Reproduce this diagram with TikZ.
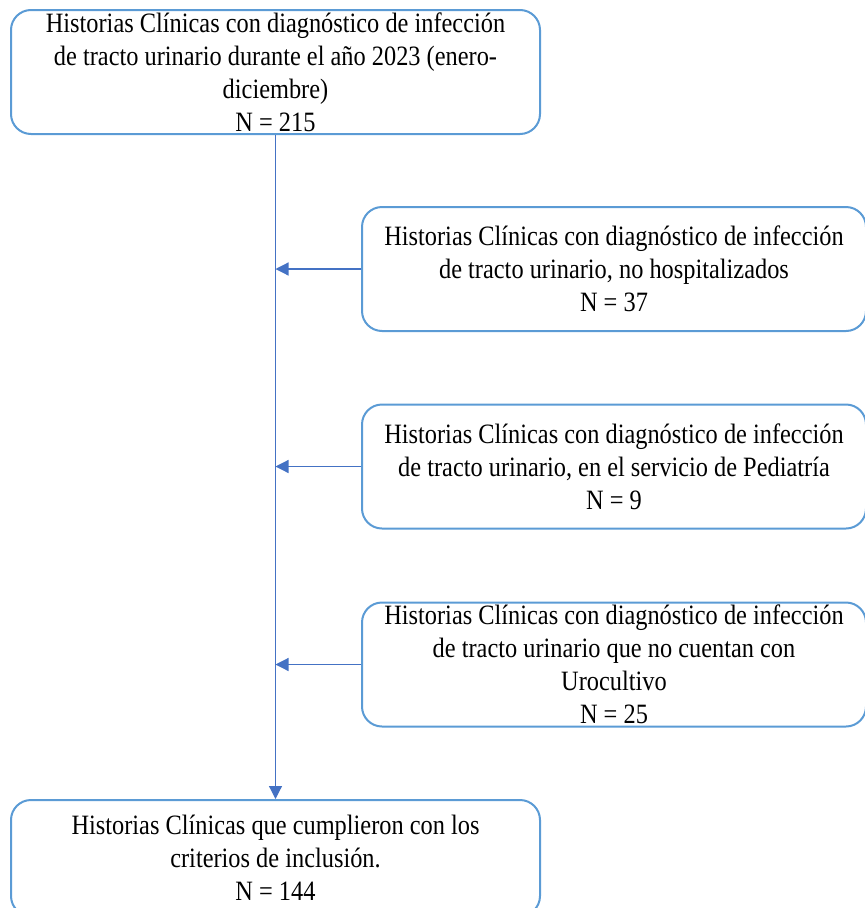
\documentclass[tikz,border=0pt]{standalone}
\usepackage{fontspec}
\setmainfont{Liberation Serif}[FakeStretch=0.87]
\usetikzlibrary{arrows.meta}

\definecolor{bordecaja}{HTML}{5B9BD5}
\definecolor{azulflecha}{HTML}{4472C4}

\tikzset{
	caja/.style={draw=bordecaja, line width=2pt, rounded corners=20pt, align=center, inner sep=0pt,
		font=\fontsize{28}{33}\selectfont},
	cajaizq/.style={caja, minimum width=529pt},
	cajader/.style={caja, minimum width=504pt, minimum height=124pt},
	flecha/.style={draw=azulflecha, line width=1.2pt, -{Triangle[length=13pt,width=13pt]}}
}

\begin{document}
\begin{tikzpicture}[x=1pt,y=-1pt]
	\useasboundingbox (0,0) rectangle (865,908);
	\clip (0,0) rectangle (865,908);
	% cajas
	\node[cajaizq, minimum height=124pt] (total) at (275.5,72) {Historias Clínicas con diagnóstico de infección\\de tracto urinario durante el año 2023 (enero-\\diciembre)\\N = 215};
	\node[cajader] (nohosp) at (614,269) {Historias Clínicas con diagnóstico de infección\\de tracto urinario, no hospitalizados\\N = 37};
	\node[cajader] (pediatria) at (614,466.5) {Historias Clínicas con diagnóstico de infección\\de tracto urinario, en el servicio de Pediatría\\N = 9};
	\node[cajader] (urocult) at (614,664.5) {Historias Clínicas con diagnóstico de infección\\de tracto urinario que no cuentan con\\Urocultivo\\N = 25};
	\node[cajaizq, minimum height=116pt] (incluidos) at (275.5,858) {Historias Clínicas que cumplieron con los\\criterios de inclusión.\\N = 144};
	% flechas
	\draw[flecha] (total.south) -- (incluidos.north);
	\draw[flecha] (nohosp.west) -- (nohosp.west -| total.south);
	\draw[flecha] (pediatria.west) -- (pediatria.west -| total.south);
	\draw[flecha] (urocult.west) -- (urocult.west -| total.south);
\end{tikzpicture}
\end{document}
